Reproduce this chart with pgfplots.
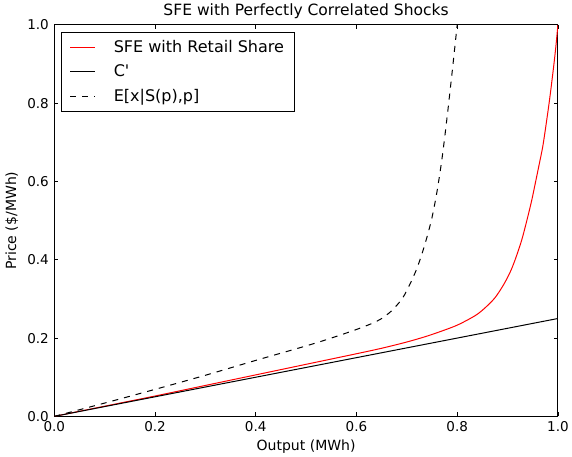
\documentclass[border=0pt]{standalone}
\usepackage{fontspec}
\setmainfont{DejaVu Sans}
\usepackage{pgfplots}
\pgfplotsset{compat=1.18}

\begin{document}
\begin{tikzpicture}
\begin{axis}[
  scale only axis,
  width=503pt, height=391pt,
  xmin=0, xmax=1, ymin=0, ymax=1,
  xtick={0,0.2,...,1.0}, ytick={0,0.2,...,1.0},
  tick align=inside,
  xtick pos=both, ytick pos=both,
  major tick length=4pt,
  tick style={black, line width=0.8pt},
  axis line style={line width=1pt},
  tick label style={font=\fontsize{13.5}{15}\selectfont},
  yticklabel style={xshift=-2pt},
  xticklabel style={yshift=-2pt},
  /pgf/number format/.cd, fixed, fixed zerofill, precision=1, assume math mode=true,
  /pgfplots/.cd,
  xlabel={Output (MWh)}, ylabel={Price (\$/MWh)},
  label style={font=\fontsize{14}{16}\selectfont},
  xlabel style={yshift=-1pt},
  ylabel style={inner ysep=5.5pt},
  title={SFE with Perfectly Correlated Shocks},
  title style={font=\fontsize{15.5}{18}\selectfont, yshift=-3pt},
  legend cell align=left,
  legend style={at={(axis description cs:0,1)}, anchor=north west,
    xshift=7pt, yshift=-7pt, draw=black, line width=0.8pt,
    font=\fontsize{16}{19}\selectfont, inner xsep=8pt, inner ysep=6pt,
    row sep=7pt, column sep=16pt, rounded corners=0pt},
  legend image code/.code={\draw[#1] (0pt,0pt) -- (25pt,0pt);},
  clip=true,
]
\addplot[red, line width=1pt, smooth] coordinates {
(0,0) (0.1,0.026) (0.2,0.052) (0.3,0.079) (0.4,0.106) (0.5,0.133)
(0.6,0.16) (0.65,0.174) (0.7,0.19) (0.74,0.205) (0.776,0.221)
(0.8,0.233) (0.823,0.248) (0.84,0.261) (0.856,0.278) (0.875,0.303)
(0.892,0.336) (0.905,0.368) (0.915,0.40) (0.928,0.45) (0.939,0.504)
(0.948,0.552) (0.955,0.595) (0.963,0.645) (0.970,0.69) (0.977,0.75)
(0.9835,0.81) (0.991,0.888) (0.996,0.946) (1.0,1.0)
};
\addlegendentry{SFE with Retail Share}

\addplot[black, line width=1pt] coordinates {(0,0) (1,0.25)};
\addlegendentry{C\textquotesingle}

\addplot[black, line width=1pt, dash pattern=on 6pt off 6pt, smooth] coordinates {
(0,0) (0.1,0.034) (0.2,0.069) (0.3,0.105) (0.4,0.143) (0.5,0.18)
(0.55,0.2) (0.6,0.222) (0.63,0.237) (0.65,0.25) (0.67,0.27)
(0.69,0.299) (0.70,0.322) (0.71,0.348) (0.72,0.378) (0.73,0.415)
(0.74,0.458) (0.75,0.508) (0.76,0.575) (0.77,0.66) (0.78,0.765)
(0.79,0.88) (0.80,1.0)
};
\addlegendentry{E[x|S(p),p]}
\end{axis}
\end{tikzpicture}
\end{document}
